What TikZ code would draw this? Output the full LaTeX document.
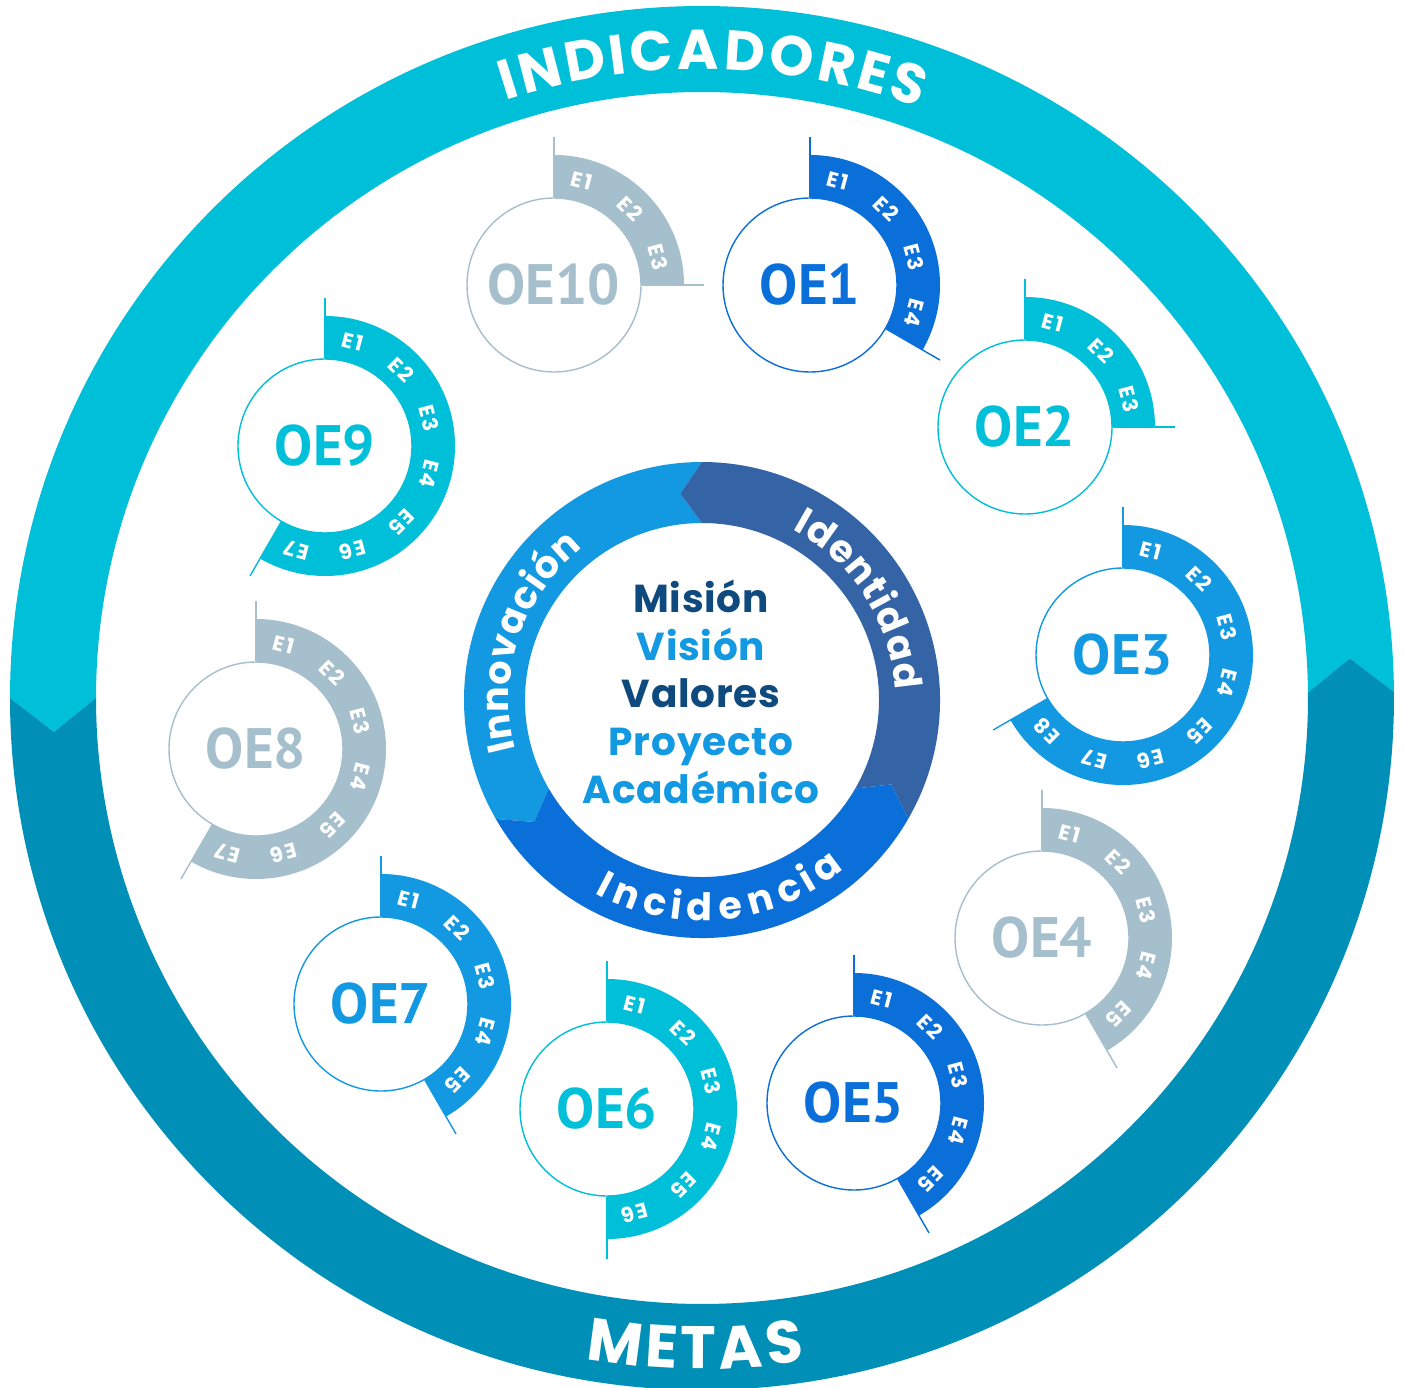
\documentclass[tikz,border=0pt]{standalone}
\usepackage{fontspec}
\setmainfont{Poppins}
\newfontfamily\gfont{Poppins}
\newfontfamily\cfont{Poppins}[LetterSpace=2]
\newfontfamily\efont{Poppins}[LetterSpace=10]
\newfontfamily\oefont{PT Sans}
\usetikzlibrary{decorations.text}
\definecolor{cyanR}{HTML}{00BFD8}
\definecolor{tealR}{HTML}{008FB6}
\definecolor{oecyan}{HTML}{00BFD8}
\definecolor{oeblue}{HTML}{0B6FDA}
\definecolor{oemid}{HTML}{1399E2}
\definecolor{oegray}{HTML}{A6BFCD}
\definecolor{idblue}{HTML}{3464A6}
\definecolor{navy}{HTML}{0E4A7E}
\tikzset{
  oecircle/.style={circle, draw=#1, line width=1.4pt, minimum size=174pt, inner sep=0pt,
    text=#1, font=\oefont\bfseries\fontsize{57}{60}\selectfont},
  elabel/.style={text=white, inner sep=0pt, font=\efont\bfseries\fontsize{21}{22}\selectfont},
  oeline/.style={draw=#1, line width=1.4pt},
  ctext/.style={anchor=base, inner sep=0pt, font=\cfont\bfseries\fontsize{39}{44}\selectfont},
}
\newcommand\oeunit[5]{%
  \begin{scope}[shift={#2}]
    \pgfmathsetmacro\oeend{90-30*#4}
    \fill[#3] (90:87) -- (90:130) arc[start angle=90,end angle=\oeend,radius=130]
      -- (\oeend:87) arc[start angle=\oeend,end angle=90,radius=87] -- cycle;
    \node[oecircle=#3] (#1) at (0,0) {#5};
    \coordinate (#1a) at (90:148);
    \coordinate (#1b) at (\oeend:150);
    \draw[oeline=#3] (#1.90) -- (#1a);
    \draw[oeline=#3] (#1.\oeend) -- (#1b);
    \foreach \k in {1,...,#4}{
      \pgfmathsetmacro\ang{105-30*\k}
      \node[elabel, rotate=\ang-90, name={#1e\k}] at (\ang:108) {E\k};
    }
  \end{scope}}
\begin{document}
\begin{tikzpicture}[x=1pt,y=1pt]
\useasboundingbox (0,0) rectangle (1405,-1388);
\fill[white] (0,0) rectangle (1405,-1388);
% outer ring
\begin{scope}[shift={(702,-698)}]
  \fill[cyanR] (0.5:692) arc[start angle=0.5,end angle=180,radius=692] -- (183:649)
    -- (180:606) arc[start angle=180,end angle=0.5,radius=606] -- (3.5:649) -- cycle;
  \fill[tealR] (180:692) arc[start angle=180,end angle=360.5,radius=692] -- (363.5:649)
    -- (360.5:606) arc[start angle=360.5,end angle=180,radius=606] -- (183:649) -- cycle;
  \path[decorate, decoration={text effects along path, text={INDICADORES},
    text effects/.cd, text along path, fit text to path,
    every character/.style={font=\gfont\bfseries\fontsize{56}{60}\selectfont, text=white, inner sep=0pt}}]
    (108.2:629) arc[start angle=108.2,end angle=69.8,radius=629];
  \path[decorate, decoration={text effects along path, text={METAS},
    text effects/.cd, text along path, fit text to path,
    every character/.style={font=\gfont\bfseries\fontsize{60}{66}\selectfont, text=white, inner sep=0pt}}]
    (260:671) arc[start angle=260,end angle=278.8,radius=671];
\end{scope}
% inner ring
\begin{scope}[shift={(702,-700)}]
  \fill[oemid] (90:238) arc[start angle=90,end angle=210,radius=238] -- (216:207.5)
    -- (210:177) arc[start angle=210,end angle=90,radius=177] -- (96:207.5) -- cycle;
  \fill[idblue] (-30:238) arc[start angle=-30,end angle=90,radius=238] -- (96:207.5)
    -- (90:177) arc[start angle=90,end angle=-30,radius=177] -- (-24:207.5) -- cycle;
  \fill[oeblue] (210:238) arc[start angle=210,end angle=330,radius=238] -- (336:207.5)
    -- (330:177) arc[start angle=330,end angle=210,radius=177] -- (216:207.5) -- cycle;
  \path[decorate, decoration={text effects along path, text={Innovación},
    text effects/.cd, text along path, fit text to path,
    every character/.style={font=\gfont\bfseries\fontsize{38}{40}\selectfont, text=white, inner sep=0pt}}]
    (195:193) arc[start angle=195,end angle=128,radius=193];
  \path[decorate, decoration={text effects along path, text={Identidad},
    text effects/.cd, text along path, fit text to path,
    every character/.style={font=\gfont\bfseries\fontsize{38}{40}\selectfont, text=white, inner sep=0pt}}]
    (62:193) arc[start angle=62,end angle=3,radius=193];
  \path[decorate, decoration={text effects along path, text={Incidencia},
    text effects/.cd, text along path, fit text to path,
    every character/.style={font=\gfont\bfseries\fontsize{38}{40}\selectfont, text=white, inner sep=0pt}}]
    (241:221) arc[start angle=241,end angle=310,radius=221];
\end{scope}
% centre text
\node[ctext, text=navy] (mision) at (701,-612) {Misión};
\node[ctext, text=oemid] (vision) at (701,-660) {Visión};
\node[ctext, text=navy] (valores) at (701,-707) {Valores};
\node[ctext, text=oemid] (proyecto) at (701,-755) {Proyecto};
\node[ctext, text=oemid] (academico) at (701,-803) {Académico};
% OE units
\oeunit{oe10}{(554,-285)}{oegray}{3}{OE10}
\oeunit{oe1}{(810,-285)}{oeblue}{4}{OE1}
\oeunit{oe2}{(1025,-427)}{oecyan}{3}{OE2}
\oeunit{oe3}{(1123,-655)}{oemid}{8}{OE3}
\oeunit{oe4}{(1042,-938)}{oegray}{5}{OE4}
\oeunit{oe5}{(854,-1103)}{oeblue}{5}{OE5}
\oeunit{oe6}{(607,-1109)}{oecyan}{6}{OE6}
\oeunit{oe7}{(381,-1004)}{oemid}{5}{OE7}
\oeunit{oe8}{(256,-749)}{oegray}{7}{OE8}
\oeunit{oe9}{(325,-446)}{oecyan}{7}{OE9}
\end{tikzpicture}
\end{document}
